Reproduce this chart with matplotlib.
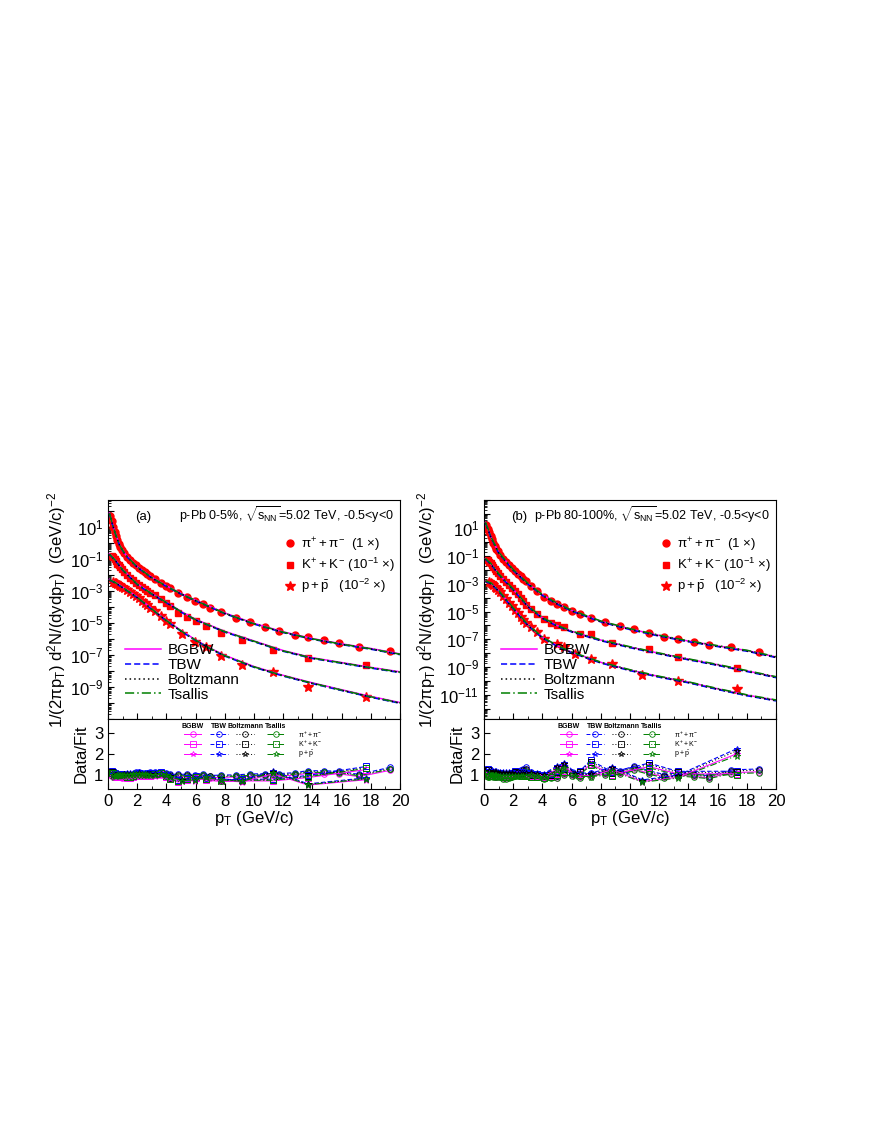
import numpy as np
import matplotlib
matplotlib.use("Agg")
import matplotlib.pyplot as plt
from matplotlib.ticker import LogLocator, FixedLocator, NullFormatter, FuncFormatter, MultipleLocator

plt.rcParams["font.family"] = ["Liberation Sans", "DejaVu Sans"]
plt.rcParams["mathtext.fontset"] = "custom"
plt.rcParams["mathtext.rm"] = "Liberation Sans"
plt.rcParams["mathtext.it"] = "Liberation Sans"

# ---------------- panel (a): p-Pb 0-5% ----------------
a_pi_pt = [0.15, 0.25, 0.35, 0.45, 0.55, 0.65, 0.75, 0.85, 0.95, 1.1, 1.3, 1.5, 1.7, 1.9, 2.1, 2.3, 2.5,
           2.7, 2.9, 3.2, 3.6, 4.0, 4.25, 4.8, 5.4, 5.95, 6.5, 7.0, 7.75, 8.75, 9.7, 10.75, 11.7, 12.8,
           13.7, 14.8, 15.8, 17.2, 19.3]
a_pi_log = [1.7, 1.35, 1.0, 0.72, 0.45, 0.2, -0.05, -0.25, -0.42, -0.62, -0.85, -1.05, -1.22, -1.38,
            -1.53, -1.68, -1.82, -1.95, -2.07, -2.25, -2.47, -2.68, -2.83, -3.1, -3.36, -3.6, -3.8,
            -4.04, -4.33, -4.67, -4.96, -5.25, -5.5, -5.73, -5.88, -6.08, -6.25, -6.52, -6.73]
a_k_pt = [0.25, 0.35, 0.45, 0.55, 0.65, 0.75, 0.85, 0.95, 1.1, 1.3, 1.5, 1.7, 1.9, 2.1, 2.3, 2.5, 2.7,
          2.9, 3.2, 3.6, 4.0, 4.25, 4.8, 5.4, 6.0, 6.7, 7.75, 9.2, 11.3, 13.7, 17.7]
a_k_log = [-0.8, -0.9, -1.02, -1.15, -1.28, -1.4, -1.52, -1.63, -1.8, -2.0, -2.18, -2.34, -2.49, -2.63,
           -2.76, -2.88, -3.0, -3.11, -3.27, -3.47, -3.75, -3.95, -4.35, -4.6, -4.85, -5.17, -5.6,
           -6.04, -6.67, -7.17, -7.63]
a_p_pt = [0.35, 0.45, 0.55, 0.65, 0.75, 0.85, 0.95, 1.1, 1.3, 1.5, 1.7, 1.9, 2.1, 2.3, 2.5, 2.7, 2.9,
          3.2, 3.6, 4.0, 4.25, 5.1, 5.95, 6.7, 7.75, 9.2, 11.3, 13.7, 17.7]
a_p_log = [-2.42, -2.47, -2.52, -2.57, -2.63, -2.69, -2.75, -2.84, -2.96, -3.08, -3.2, -3.32, -3.45,
           -3.6, -3.75, -3.9, -4.05, -4.27, -4.55, -4.85, -5.05, -5.7, -6.17, -6.5, -7.06, -7.63,
           -8.06, -8.98, -9.65]

a_pi_fit_pt = [0.1, 0.3, 0.5, 0.8, 1.2, 2, 3, 4, 5, 6, 8, 10, 12, 14, 16, 18, 20]
a_pi_fit_log = [1.85, 1.18, 0.6, -0.15, -0.75, -1.5, -2.17, -2.7, -3.18, -3.6, -4.4, -5.05, -5.58,
                -6.0, -6.33, -6.62, -6.96]
a_k_fit_pt = [0.1, 0.5, 1, 2, 3, 4, 5, 6, 8, 10, 12, 14, 16, 18, 20]
a_k_fit_log = [-0.7, -1.08, -1.68, -2.58, -3.18, -3.72, -4.3, -4.8, -5.55, -6.15, -6.75, -7.2, -7.5,
               -7.8, -8.08]
a_p_fit_pt = [0.1, 0.5, 1, 2, 3, 4, 5, 6, 7, 8, 10, 12, 14, 16, 18, 20]
a_p_fit_log = [-2.3, -2.48, -2.78, -3.4, -4.13, -4.85, -5.5, -6.08, -6.6, -7.05, -7.75, -8.3, -8.77,
               -9.2, -9.62, -10.0]

# ---------------- panel (b): p-Pb 80-100% ----------------
b_pi_pt = [0.15, 0.25, 0.35, 0.45, 0.55, 0.65, 0.75, 0.85, 0.95, 1.1, 1.3, 1.5, 1.7, 1.9, 2.1, 2.3, 2.5,
           2.7, 2.9, 3.2, 3.6, 4.1, 4.6, 5.0, 5.5, 6.05, 6.55, 7.3, 8.3, 9.3, 10.3, 11.3, 12.35, 13.3,
           14.35, 15.4, 16.9, 18.85]
b_pi_log = [1.25, 0.95, 0.68, 0.42, 0.18, -0.05, -0.27, -0.48, -0.68, -0.92, -1.2, -1.45, -1.68, -1.9,
            -2.1, -2.28, -2.46, -2.63, -2.8, -3.15, -3.5, -3.94, -4.23, -4.49, -4.66, -4.95, -5.19,
            -5.45, -5.78, -6.03, -6.22, -6.53, -6.84, -6.99, -7.22, -7.44, -7.58, -7.94]
b_k_pt = [0.25, 0.35, 0.45, 0.55, 0.65, 0.75, 0.85, 0.95, 1.1, 1.3, 1.5, 1.7, 1.9, 2.1, 2.3, 2.5, 2.7,
          2.9, 3.2, 3.6, 4.1, 4.6, 5.0, 5.5, 6.55, 7.3, 8.8, 11.3, 13.3, 17.3]
b_k_log = [-1.3, -1.42, -1.55, -1.68, -1.82, -1.96, -2.1, -2.24, -2.43, -2.66, -2.88, -3.1, -3.3, -3.5,
           -3.75, -4.0, -4.25, -4.5, -4.8, -5.15, -5.57, -5.81, -5.98, -6.14, -6.58, -6.65, -7.25,
           -7.7, -8.26, -9.09]
b_p_pt = [0.35, 0.45, 0.55, 0.65, 0.75, 0.85, 0.95, 1.1, 1.3, 1.5, 1.7, 1.9, 2.1, 2.3, 2.5, 2.7, 2.9,
          3.2, 3.6, 4.1, 5.0, 5.5, 6.25, 7.3, 8.8, 10.85, 13.3, 17.3]
b_p_log = [-2.88, -2.95, -3.03, -3.12, -3.22, -3.33, -3.45, -3.63, -3.88, -4.13, -4.38, -4.63, -4.88,
           -5.12, -5.36, -5.6, -5.83, -6.12, -6.5, -6.94, -7.35, -7.54, -8.02, -8.42, -8.78, -9.58,
           -9.99, -10.54]

b_pi_fit_pt = [0.1, 0.5, 1, 2, 3, 4, 5, 6, 8, 10, 12, 14, 16, 18, 20]
b_pi_fit_log = [1.4, 0.3, -0.75, -2.0, -2.98, -3.8, -4.42, -4.92, -5.7, -6.25, -6.72, -7.12, -7.47,
                -7.8, -8.26]
b_k_fit_pt = [0.1, 0.5, 1, 2, 3, 4, 5, 6, 8, 10, 12, 14, 16, 18, 20]
b_k_fit_log = [-1.2, -1.6, -2.3, -3.4, -4.6, -5.45, -6.0, -6.42, -7.05, -7.55, -8.0, -8.42, -8.82,
               -9.26, -9.7]
b_p_fit_pt = [0.1, 0.5, 1, 2, 3, 4, 5, 6, 8, 10, 12, 14, 16, 18, 20]
b_p_fit_log = [-2.8, -2.98, -3.5, -4.75, -5.95, -6.85, -7.45, -7.92, -8.65, -9.2, -9.67, -10.07,
               -10.55, -11.0, -11.37]

MODELS = ["BGBW", "TBW", "Boltzmann", "Tsallis"]
MODEL_COLORS = ["#ff00ff", "#0000ff", "#000000", "#008000"]
MODEL_LS = ["-", (0, (4, 2)), (0, (1, 2)), (0, (6, 2, 1, 2))]
a_model_dlog = [0.03, -0.02, 0.0, 0.01]
b_model_dlog = [0.0, -0.05, -0.03, 0.02]

PANELS = [
    dict(tag="(a)", cent="0-5%", ylim=(10**-11, 10**2.69), dlog=a_model_dlog, elab=(-9, 1),
         sp=[(a_pi_pt, a_pi_log, a_pi_fit_pt, a_pi_fit_log, "o"),
             (a_k_pt, a_k_log, a_k_fit_pt, a_k_fit_log, "s"),
             (a_p_pt, a_p_log, a_p_fit_pt, a_p_fit_log, "*")]),
    dict(tag="(b)", cent="80-100%", ylim=(10**-12.72, 10**3.01), dlog=b_model_dlog, elab=(-11, 1),
         sp=[(b_pi_pt, b_pi_log, b_pi_fit_pt, b_pi_fit_log, "o"),
             (b_k_pt, b_k_log, b_k_fit_pt, b_k_fit_log, "s"),
             (b_p_pt, b_p_log, b_p_fit_pt, b_p_fit_log, "*")]),
]
SPECIES_LABELS = [r"$\pi^{+}+\pi^{-}$  (1 $\times$)", r"$K^{+}+K^{-}$ (10$^{-1}$ $\times$)",
                  r"$p+\bar{p}$   (10$^{-2}$ $\times$)"]
SPECIES_SHORT = [r"$\pi^{+}+\pi^{-}$", r"$K^{+}+K^{-}$", r"$p+\bar{p}$"]

fig = plt.figure(figsize=(8.72, 11.28), dpi=100)
lefts = [108 / 872, 484 / 872]
w = 292 / 872
top_b, top_h = 1 - 719 / 1128, 219 / 1128
rat_b, rat_h = 1 - 789 / 1128, 70 / 1128


def make_fmt(lo, hi):
    def fmt(v, pos):
        e = int(round(np.log10(v)))
        if e % 2 != 0 and lo <= e <= hi:
            return r"10$^{%d}$" % e
        return ""
    return fmt


for left, pan in zip(lefts, PANELS):
    ax = fig.add_axes([left, top_b, w, top_h])
    rx = fig.add_axes([left, rat_b, w, rat_h], sharex=ax)

    for i, (pt, lg, fpt, flg, mk) in enumerate(pan["sp"]):
        ms = 7 if mk == "*" else 5
        ax.plot(pt, 10 ** np.array(lg), ls="none", marker=mk, color="red", ms=ms, zorder=2,
                label=SPECIES_LABELS[i])
        for j, m in enumerate(MODELS):
            fl = np.array(flg) + pan["dlog"][j]
            ax.plot(fpt, 10 ** fl, color=MODEL_COLORS[j], ls=MODEL_LS[j], lw=1.1, zorder=3,
                    label=m if i == 0 else None)
            ratio = 10 ** (np.array(lg) - np.interp(pt, fpt, fl))
            rx.plot(pt, ratio, color=MODEL_COLORS[j], ls=MODEL_LS[j], lw=0.8, marker=mk,
                    mfc="none", ms=4 if mk != "*" else 5, mew=0.7)

    ax.set_yscale("log")
    ax.set_ylim(*pan["ylim"])
    ax.set_xlim(0, 20)
    ax.yaxis.set_major_locator(LogLocator(base=10, numticks=30))
    ax.yaxis.set_minor_locator(LogLocator(base=10, subs=np.arange(2, 10), numticks=60))
    ax.yaxis.set_major_formatter(FuncFormatter(make_fmt(*pan["elab"])))
    ax.yaxis.set_minor_formatter(NullFormatter())
    ax.tick_params(axis="both", which="both", direction="in", labelsize=12)
    ax.tick_params(axis="x", labelbottom=False)
    ax.tick_params(which="major", length=4)
    ax.tick_params(which="minor", length=2)
    ax.xaxis.set_major_locator(MultipleLocator(2))
    ax.xaxis.set_minor_locator(MultipleLocator(1))
    ax.set_ylabel(r"1/(2$\pi$p$_T$) d$^2$N/(dydp$_T$)  (GeV/c)$^{-2}$", fontsize=12, labelpad=1)

    ax.text(0.12, 0.91, pan["tag"], transform=ax.transAxes, fontsize=9.5, ha="center")
    ax.text(0.98, 0.91, "p-Pb %s, $\\sqrt{s_{NN}}$=5.02 TeV, -0.5<y<0" % pan["cent"],
            transform=ax.transAxes, fontsize=9, ha="right")

    h, lab = ax.get_legend_handles_labels()
    sp_h = [hh for hh, ll in zip(h, lab) if ll in SPECIES_LABELS]
    md_h = [hh for hh, ll in zip(h, lab) if ll in MODELS]
    leg1 = ax.legend(sp_h, SPECIES_LABELS, loc="upper left", bbox_to_anchor=(0.57, 0.88),
                     frameon=False, handletextpad=0.3, labelspacing=0.2, borderpad=0.2,
                     handlelength=1.0, fontsize=9.5)
    ax.add_artist(leg1)
    ax.legend(md_h, MODELS, loc="lower left", bbox_to_anchor=(0.02, 0.03), frameon=False,
              fontsize=11, handlelength=2.4, labelspacing=0.05, handletextpad=0.4, borderpad=0.2)

    rx.set_ylim(0.3, 3.7)
    rx.yaxis.set_major_locator(FixedLocator([1, 2, 3]))
    rx.tick_params(axis="both", which="both", direction="in", labelsize=12)
    rx.tick_params(which="major", length=4)
    rx.tick_params(which="minor", length=2)
    rx.set_ylabel("Data/Fit", fontsize=12, labelpad=4)
    rx.set_xlabel(r"p$_T$ (GeV/c)", fontsize=12, labelpad=0)

    # small marker key inside the ratio panel
    hx = [0.29, 0.38, 0.47, 0.575]
    for j, m in enumerate(MODELS):
        rx.text(hx[j], 0.87, m, transform=rx.transAxes, fontsize=5, fontweight="bold", ha="center")
        for mk, yy in zip(["o", "s", "*"], [0.78, 0.64, 0.5]):
            rx.plot([hx[j] - 0.03, hx[j] + 0.03], [yy, yy], transform=rx.transAxes,
                    color=MODEL_COLORS[j], ls=MODEL_LS[j], lw=0.7)
            rx.plot([hx[j]], [yy], transform=rx.transAxes, color=MODEL_COLORS[j], marker=mk,
                    mfc="none", ms=4, mew=0.6)
    for k, yy in enumerate([0.78, 0.64, 0.5]):
        rx.text(0.65, yy, SPECIES_SHORT[k], transform=rx.transAxes, fontsize=5, va="center")

fig.savefig("out.png", dpi=100)
